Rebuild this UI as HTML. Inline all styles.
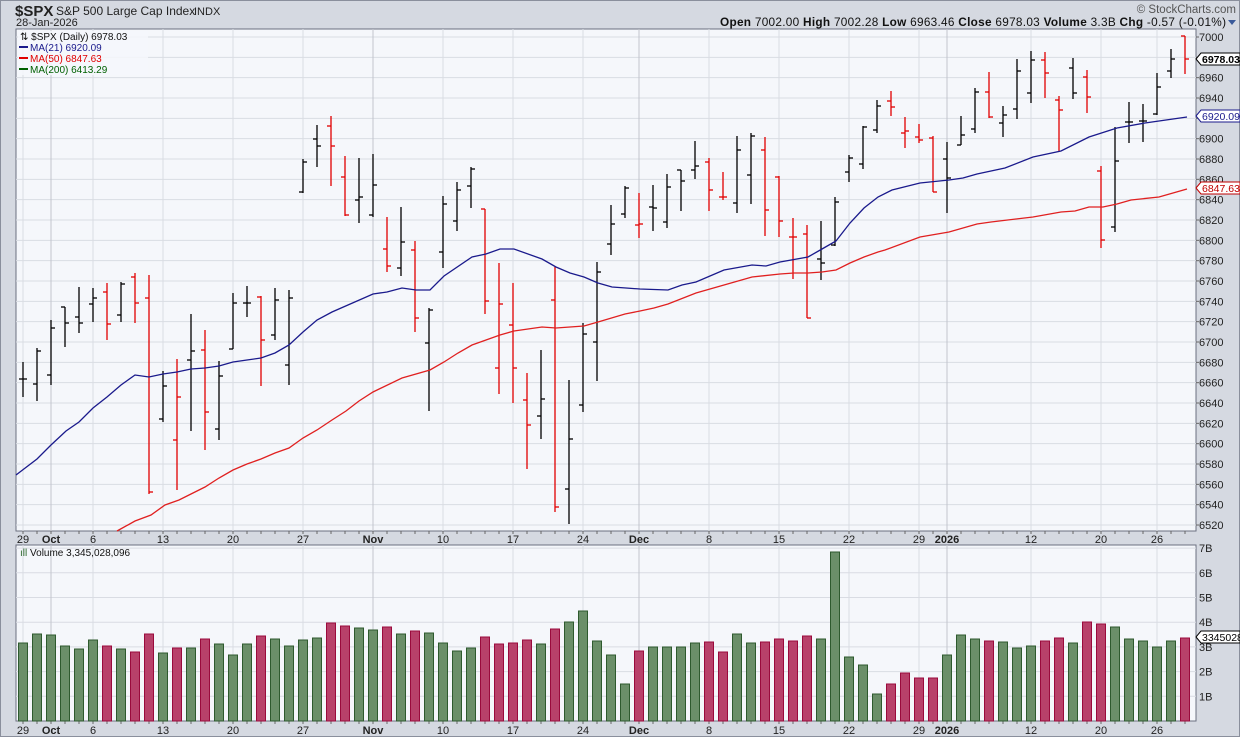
<!DOCTYPE html>
<html><head><meta charset="utf-8"><style>
html,body{margin:0;padding:0;background:#d5d9e1;}
svg{display:block;font-family:"Liberation Sans",Arial,sans-serif;}
</style></head><body>
<svg id="c" width="1240" height="737" xmlns="http://www.w3.org/2000/svg"></svg>
<script>
const s=document.getElementById('c');let h='';
h+='<rect x="0" y="0" width="1240" height="737" fill="#d5d9e1"/>';
h+='<rect x="0.5" y="0.5" width="1239" height="736" fill="none" stroke="#8a8f9c"/>';
// header
h+='<text x="15" y="16" font-size="15" font-weight="bold" fill="#222">$SPX</text>';
h+='<text x="56" y="15" font-size="12" fill="#222">S&amp;P 500 Large Cap Index</text>';
h+='<text x="194" y="15" font-size="11" fill="#222">INDX</text>';
h+='<text x="16" y="26" font-size="11" fill="#222">28-Jan-2026</text>';
h+='<text x="1236" y="13" font-size="11.5" fill="#555" text-anchor="end">© StockCharts.com</text>';
h+='<text x="1226" y="26" font-size="11.8" fill="#111" text-anchor="end" textLength="506"><tspan font-weight="bold">Open</tspan> 7002.00 <tspan font-weight="bold">High</tspan> 7002.28 <tspan font-weight="bold">Low</tspan> 6963.46 <tspan font-weight="bold">Close</tspan> 6978.03 <tspan font-weight="bold">Volume</tspan> 3.3B <tspan font-weight="bold">Chg</tspan> -0.57 (-0.01%)</text>';
h+='<path d="M1228 20 L1236 20 L1232 25Z" fill="#3a5a9a"/>';
const L=16,R=1196;
h+='<rect x="'+L+'" y="29" width="'+(R-L)+'" height="502" fill="#f5f7fb" stroke="#6b7080"/>';
h+='<rect x="'+L+'" y="545" width="'+(R-L)+'" height="176" fill="#f5f7fb" stroke="#6b7080"/>';
const py=p=>37+(7000-p)*1.0167;
for(let p=6520;p<=7000;p+=20){const y=py(p);
 h+='<line x1="'+L+'" x2="'+R+'" y1="'+y+'" y2="'+y+'" stroke="#d9dce3"/>';
 h+='<line x1="'+R+'" x2="'+(R+3)+'" y1="'+y+'" y2="'+y+'" stroke="#666"/>';
 h+='<text x="1199" y="'+(y+4)+'" font-size="11" fill="#222">'+p+'</text>';}
for(let k=1;k<=7;k++){const y=721-24.7*k;
 h+='<line x1="'+L+'" x2="'+R+'" y1="'+y+'" y2="'+y+'" stroke="#d9dce3"/>';
 h+='<text x="1199" y="'+(y+4)+'" font-size="11" fill="#222">'+k+'B</text>';}
const lab=[[23,'29',0],[51,'Oct',1],[93,'6',0],[163,'13',0],[233,'20',0],[303,'27',0],[373,'Nov',1],[443,'10',0],[513,'17',0],[583,'24',0],[639,'Dec',1],[709,'8',0],[779,'15',0],[849,'22',0],[919,'29',0],[947,'2026',1],[1031,'12',0],[1101,'20',0],[1157,'26',0]];
lab.forEach(([x,t,b])=>{const c=b?'#c2c5cd':'#d9dce3';
 h+='<line x1="'+x+'" x2="'+x+'" y1="29" y2="531" stroke="'+c+'"/>';
 h+='<line x1="'+x+'" x2="'+x+'" y1="545" y2="721" stroke="'+c+'"/>';
 [543,734].forEach(yy=>h+='<text x="'+x+'" y="'+yy+'" font-size="11" text-anchor="middle" fill="#222"'+(b?' font-weight="bold"':'')+'>'+t+'</text>');});
for(let i=0;i<84;i++){const x=23+14*i;
 h+='<line x1="'+x+'" x2="'+x+'" y1="531" y2="534" stroke="#666"/><line x1="'+x+'" x2="'+x+'" y1="721" y2="724" stroke="#666"/>';}
const d=[[362,397,379,379,0],[348,401,384,351,0],[320,385,375,328,0],[307,347,307,323,0],[287,333,317,323,0],[288,322,304,298,0],[283,340,292,324,1],[282,322,315,284,0],[273,323,277,303,1],[275,494,298,492,1],
[371,422,419,386,0],[359,490,440,397,1],[314,431,360,351,0],[330,450,350,412,1],[361,440,429,376,0],[293,349,349,303,0],[286,317,303,303,0],[296,386,297,340,1],[288,340,335,300,0],[290,385,365,298,0],
[159,193,192,162,0],[125,167,139,146,0],[116,186,126,146,1],[156,216,177,215,1],[158,223,200,197,0],[154,217,215,185,0],[217,272,249,266,1],[207,276,268,242,0],[241,332,250,318,1],[308,411,343,310,0],
[196,268,252,204,0],[182,231,221,190,0],[167,208,186,169,0],[209,314,209,301,1],[263,394,368,304,1],[283,403,325,368,1],[373,469,400,425,1],[350,439,416,399,0],[267,512,300,507,1],[380,524,489,439,0],
[323,412,405,334,0],[262,381,342,272,0],[205,255,244,224,0],[186,218,214,188,0],[193,238,225,224,1],[185,231,207,208,0],[174,228,222,187,0],[170,211,170,181,0],[141,179,170,166,0],[158,211,162,190,1],
[172,200,197,197,1],[136,213,203,150,0],[133,204,175,136,0],[137,236,150,210,1],[176,237,177,221,1],[218,279,237,237,1],[225,318,234,318,1],[221,280,259,263,0],[197,246,245,202,0],[155,182,172,158,0],
[126,169,164,127,0],[100,133,130,106,0],[91,116,101,107,1],[117,148,133,131,1],[124,143,137,140,1],[136,192,138,192,1],[142,213,159,178,0],[116,145,145,135,0],[88,133,129,92,0],[72,118,92,117,1],
[106,137,123,115,0],[59,119,109,71,0],[51,103,93,60,0],[52,98,60,73,1],[96,151,100,110,1],[58,99,68,93,0],[70,113,77,97,1],[166,248,171,240,1],[127,232,227,161,0],[102,143,122,122,0],
[104,142,121,121,0],[73,115,114,87,0],[49,78,71,59,0],[36,74,36,59,1]];
d.forEach((b,i)=>{const x=23+14*i,c=b[4]?'#e00000':'#000';
 h+='<g stroke="'+c+'" stroke-width="1.3"><line x1="'+x+'" x2="'+x+'" y1="'+b[0]+'" y2="'+b[1]+'"/><line x1="'+(x-4)+'" x2="'+x+'" y1="'+b[2]+'" y2="'+b[2]+'"/><line x1="'+x+'" x2="'+(x+4)+'" y1="'+b[3]+'" y2="'+b[3]+'"/></g>';});
const blue=[[16,475],[37,459],[51,445],[66,431],[79,422],[93,408],[107,397],[121,385],[135,375],[149,377],[163,374],[177,372],[191,369],[205,368],[219,366],[233,362],[247,360],[261,358],[275,353],[289,345],[303,332],[317,320],[332,312],[373,294],[387,292],[402,288],[416,290],[430,290],[444,276],[472,257],[486,254],[500,249],[514,249],[542,259],[556,267],[570,273],[584,277],[598,283],[612,287],[626,288],[640,289],[668,290],[682,285],[696,282],[724,270],[752,265],[766,266],[780,262],[808,257],[822,249],[836,241],[850,223],[864,208],[878,197],[892,190],[920,183],[949,180],[963,178],[977,174],[1005,168],[1033,157],[1061,151],[1089,137],[1117,128],[1145,123],[1187,117]];
const red=[[117,531],[135,521],[151,515],[165,505],[179,500],[191,494],[205,487],[219,478],[233,470],[247,464],[261,459],[275,453],[289,448],[303,438],[317,430],[332,420],[346,411],[359,401],[373,392],[402,378],[430,370],[444,362],[458,353],[472,345],[486,340],[500,335],[514,331],[542,327],[556,328],[584,326],[598,322],[625,314],[640,311],[654,308],[668,304],[696,293],[724,285],[752,277],[780,274],[794,273],[808,273],[822,272],[836,270],[850,263],[864,257],[878,252],[885,250],[920,237],[949,232],[977,224],[991,222],[1033,217],[1061,212],[1075,211],[1089,207],[1103,207],[1117,204],[1131,200],[1159,197],[1173,193],[1187,189]];
const pl=(a,c)=>'<polyline fill="none" stroke="'+c+'" stroke-width="1.3" points="'+a.map(p=>p.join(',')).join(' ')+'"/>';
h+=pl(blue,'#1a1a8c')+pl(red,'#e02020');
h+='<rect x="18" y="31" width="130" height="44" fill="#f5f7fb" opacity="0.85"/>';
h+='<text x="20" y="40" font-size="10" fill="#111">⇅ $SPX (Daily) 6978.03</text>';
[['MA(21) 6920.09','#1a1a8c',51],['MA(50) 6847.63','#e00000',62],['MA(200) 6413.29','#006000',73]].forEach(([t,c,y])=>{
 h+='<line x1="19" x2="28" y1="'+(y-4)+'" y2="'+(y-4)+'" stroke="'+c+'" stroke-width="2"/><text x="30" y="'+y+'" font-size="10" fill="'+c+'">'+t+'</text>';});
const v=[643,634,635,646,649,640,646,649,652,634,653,648,648,639,644,655,644,636,639,646,640,638,623,626,628,630,627,634,631,633,643,651,648,637,644,643,640,644,629,622,611,641,655,684,651,647,647,647,643,642,652,634,643,642,639,641,636,639,552,657,665,694,684,673,678,678,655,635,639,641,642,648,646,641,638,643,622,624,627,639,641,647,641,638];
const vr=[6,8,9,11,13,17,22,23,26,28,33,34,35,36,38,44,49,50,53,54,55,56,62,63,64,65,69,73,74,76,77,83];
v.forEach((y,i)=>{const x=23+14*i,r=vr.includes(i);
 h+='<rect x="'+(x-4.5)+'" y="'+y+'" width="9" height="'+(721-y)+'" fill="'+(r?'#b8416a':'#6b8f69')+'" stroke="'+(r?'#9a0a3c':'#2e5a2e')+'" stroke-width="1"/>';});
h+='<text x="20" y="556" font-size="10" fill="#111"><tspan fill="#2e6a2e">ıll</tspan> Volume 3,345,028,096</text>';
function tag(y,t,c,bold){h+='<path d="M1196 '+y+' L1201 '+(y-6)+' L1240 '+(y-6)+' L1240 '+(y+6)+' L1201 '+(y+6)+'Z" fill="#fff" stroke="'+c+'"/><text x="1202" y="'+(y+4)+'" font-size="10.5" fill="'+c+'"'+(bold?' font-weight="bold"':'')+'>'+t+'</text>';}
tag(59,'6978.03','#000',1);tag(116,'6920.09','#1a1a8c',0);tag(188,'6847.63','#c00000',0);tag(637,'3345028','#000',0);
s.innerHTML=h;
</script>
</body></html>
